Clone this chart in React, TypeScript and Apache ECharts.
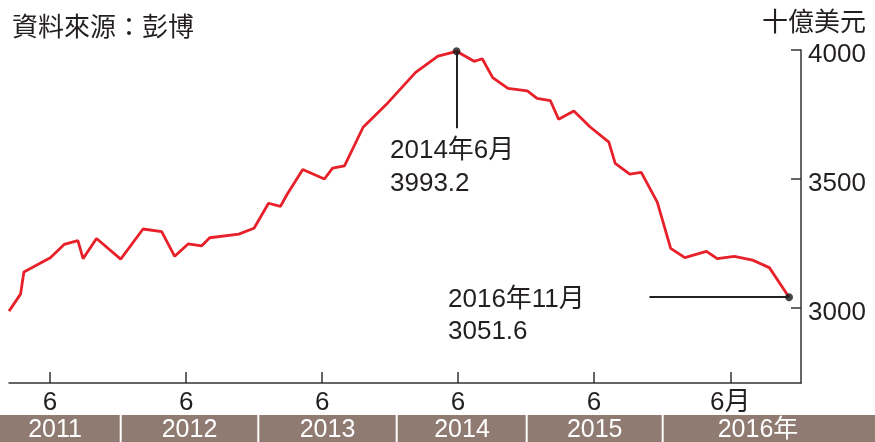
import React, { useEffect, useRef } from "react";
import * as echarts from "echarts";

// Data (China FX reserves, billion USD)
const dates = [
  "2011-02-25", "2011-03-28", "2011-04-06", "2011-06-16", "2011-07-23", "2011-08-29", "2011-09-12", "2011-10-18", "2011-12-22",
  "2012-02-20", "2012-04-10", "2012-05-15", "2012-06-20", "2012-07-26", "2012-08-17", "2012-11-03", "2012-12-14",
  "2013-01-22", "2013-02-23", "2013-03-13", "2013-04-24", "2013-06-21", "2013-07-13", "2013-08-14", "2013-10-03", "2013-12-04",
  "2014-02-21", "2014-04-22", "2014-06-11", "2014-07-28", "2014-08-19", "2014-09-16", "2014-10-27", "2014-12-18",
  "2015-01-13", "2015-02-18", "2015-03-12", "2015-04-22", "2015-06-04", "2015-07-25", "2015-08-11", "2015-09-19", "2015-10-20", "2015-12-02",
  "2016-01-07", "2016-02-14", "2016-04-12", "2016-05-11", "2016-06-26", "2016-08-14", "2016-09-28", "2016-11-20",
];
const values = [
  2986, 3052, 3138, 3193, 3245, 3260, 3190, 3268, 3188,
  3305, 3295, 3199, 3247, 3239, 3271, 3285, 3308,
  3405, 3393, 3440, 3536, 3499, 3541, 3550, 3700, 3788,
  3913, 3976, 3995, 3956, 3966, 3893, 3851, 3841,
  3812, 3803, 3731, 3763, 3702, 3642, 3560, 3518, 3525, 3409,
  3230, 3194, 3218, 3190, 3199, 3184, 3155, 3040,
];

const tickDates = ["2011-06-15", "2012-06-15", "2013-06-15", "2014-06-15", "2015-06-15", "2016-06-15"];
const tickLabels = ["6", "6", "6", "6", "6", "6月"];
const yTicks = [3000, 3500, 4000];
const years = ["2011", "2012", "2013", "2014", "2015", "2016年"];

const title = "資料來源：彭博";
const unit = "十億美元";
const peakLabel = ["2014年6月", "3993.2"];
const lastLabel = ["2016年11月", "3051.6"];

const FONT = "'Liberation Sans', 'Noto Sans CJK TC', sans-serif";
const TXT = "#231f20";

function ts(s: string) {
  const [y, m, d] = s.split("-").map(Number);
  return Date.UTC(y, m - 1, d);
}

export default function App() {
  const ref = useRef<HTMLDivElement>(null);
  useEffect(() => {
    if (!ref.current) return;
    const chart = echarts.init(ref.current, null, { renderer: "svg" });
    const data = dates.map((d, i) => [ts(d), values[i]]);
    let peakIdx = 0;
    values.forEach((v, i) => { if (v > values[peakIdx]) peakIdx = i; });
    const lastIdx = values.length - 1;
    const tickTs = tickDates.map(ts);

    // year band layout (decoration)
    const sepX = [120.7, 258.3, 396.7, 526.7, 662.7];
    const yearCx = [55, 189.5, 327.5, 462, 594.7, 758];

    const graphics: any[] = [
      { type: "rect", shape: { x: 0, y: 415, width: 875, height: 27 }, style: { fill: "#8f7b72" } },
      ...sepX.map((x) => ({ type: "rect", shape: { x: x - 1, y: 415, width: 2, height: 27 }, style: { fill: "#ffffff" } })),
      ...years.map((t, i) => ({
        type: "text", x: yearCx[i], y: 427.5,
        style: { text: t, fill: "#ffffff", font: `25px ${FONT}`, align: "center", verticalAlign: "middle" },
      })),
      { type: "text", x: 12, y: 27, style: { text: title, fill: TXT, font: `26px ${FONT}`, align: "left", verticalAlign: "middle" } },
      { type: "text", x: 866, y: 22, style: { text: unit, fill: TXT, font: `26px ${FONT}`, align: "right", verticalAlign: "middle" } },
      { type: "text", x: 390, y: 149, style: { text: peakLabel[0], fill: TXT, font: `26px ${FONT}`, align: "left", verticalAlign: "middle" } },
      { type: "text", x: 390, y: 182, style: { text: peakLabel[1], fill: TXT, font: `26px ${FONT}`, align: "left", verticalAlign: "middle" } },
      { type: "text", x: 448, y: 298, style: { text: lastLabel[0], fill: TXT, font: `26px ${FONT}`, align: "left", verticalAlign: "middle" } },
      { type: "text", x: 448, y: 330, style: { text: lastLabel[1], fill: TXT, font: `26px ${FONT}`, align: "left", verticalAlign: "middle" } },
    ];

    chart.setOption({
      animation: false,
      grid: { left: 9, right: 74, top: 50, bottom: 59 },
      xAxis: {
        type: "value",
        min: ts("2011-02-25"),
        max: ts("2016-12-22"),
        axisLine: { show: true, lineStyle: { color: "#333", width: 1.5 } },
        axisTick: { show: true, inside: true, length: 11, customValues: tickTs, lineStyle: { color: "#333", width: 1.5 } },
        axisLabel: {
          show: true, customValues: tickTs, margin: 5, color: TXT, fontSize: 26, fontFamily: FONT,
          formatter: (v: number) => {
            const i = tickTs.findIndex((t) => Math.abs(t - v) < 86400000);
            return i >= 0 ? tickLabels[i] : "";
          },
        },
        splitLine: { show: false },
      },
      yAxis: {
        type: "value",
        position: "right",
        min: 2707,
        max: 4000,
        axisLine: { show: true, lineStyle: { color: "#333", width: 1.5 } },
        axisTick: { show: true, inside: true, length: 10, customValues: yTicks, lineStyle: { color: "#333", width: 1.5 } },
        axisLabel: {
          show: true, customValues: yTicks, margin: 7, color: TXT, fontSize: 26, fontFamily: FONT,
          verticalAlign: "top", lineHeight: 6,
          formatter: (v: number) => String(v),
        },
        splitLine: { show: false },
      },
      series: [
        {
          type: "line",
          data,
          symbol: "none",
          lineStyle: { color: "#e8202a", width: 2.8 },
          itemStyle: { color: "#e8202a" },
          z: 2,
        },
        {
          type: "scatter",
          data: [data[peakIdx], data[lastIdx]],
          symbolSize: 8,
          itemStyle: { color: "#1a1a1a" },
          z: 4,
          markLine: {
            silent: true,
            symbol: "none",
            label: { show: false },
            lineStyle: { color: "#222", width: 2, type: "solid" },
            data: [
              [{ coord: [data[peakIdx][0], values[peakIdx]] }, { coord: [data[peakIdx][0], 3696] }],
              [{ coord: [ts("2015-11-11"), values[lastIdx]] }, { coord: [data[lastIdx][0], values[lastIdx]] }],
            ],
          },
        },
      ],
      graphic: graphics,
    });
    return () => chart.dispose();
  }, []);
  return <div ref={ref} style={{ position: "fixed", left: 0, top: 0, width: 875, height: 442 }} />;
}
